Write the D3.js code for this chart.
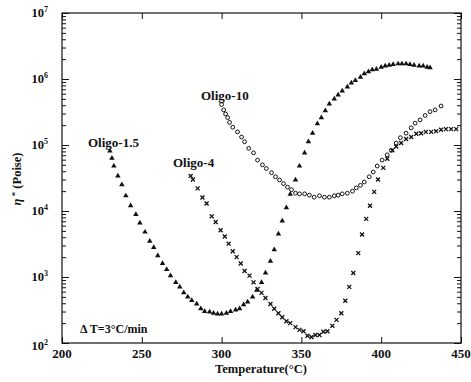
<!DOCTYPE html>
<html>
<head>
<meta charset="utf-8">
<script src="https://cdn.jsdelivr.net/npm/d3@7"></script>
<style>
  body { margin: 0; background: #fff; }
</style>
</head>
<body>
<div id="chart"></div>
<script>
// temperature (°C) and complex viscosity eta* (Poise)
const oligo15Temp = [230, 231.3, 232.5, 235, 237.5, 240, 243, 246.3, 248.8, 252, 255, 257.5, 260, 263, 265.6, 268, 271.3, 273.8, 276.3, 278.8,
  281.3, 284.4, 287, 289.4, 292.5, 295, 297.5, 300, 303, 305.6, 308.8, 311.3, 313.8, 316.3, 319.4, 322, 325, 327.5, 330.6, 333,
  335.6, 338, 340.6, 343, 346.3, 348.8, 352, 354.4, 357, 360, 362.5, 365, 367.5, 370.6, 373, 375.6, 378.8, 381.3, 383.8, 387,
  389.4, 392, 394.4, 397, 400, 402.5, 405, 407.5, 410.6, 413, 415.6, 418, 420.6, 423.8, 426.3, 428.8, 430.6];
const oligo15Eta = [8.1e4, 6.3e4, 4.8e4, 3.4e4, 2.5e4, 1.7e4, 1.2e4, 8.9e3, 6.6e3, 4.8e3, 3.5e3, 2.8e3, 2.1e3, 1.6e3, 1.3e3, 1.05e3, 830, 710, 580, 500,
  440, 390, 330, 300, 295, 282, 275, 275, 282, 300, 316, 330, 380, 420, 500, 630, 830, 1.15e3, 1.74e3, 2.6e3,
  4.5e3, 7.1e3, 1.12e4, 1.8e4, 2.95e4, 4.8e4, 7.6e4, 1.12e5, 1.51e5, 2.1e5, 2.6e5, 3.3e5, 4.2e5, 5.0e5, 5.75e5, 6.6e5, 7.6e5, 8.7e5, 9.5e5, 1.07e6,
  1.2e6, 1.29e6, 1.38e6, 1.41e6, 1.51e6, 1.58e6, 1.62e6, 1.66e6, 1.7e6, 1.7e6, 1.7e6, 1.66e6, 1.62e6, 1.58e6, 1.58e6, 1.51e6, 1.48e6];

const oligo4Temp = [280.6, 282, 285, 288, 290.6, 293.8, 296.3, 299.4, 302, 304.4, 307, 309.4, 312, 314.4, 317.5, 320, 322.5, 325, 327.5, 330.6,
  333, 335.6, 338, 340.6, 343, 346.3, 348.8, 351.3, 353.8, 356.3, 358.8, 361.3, 363.8, 366.3, 369.4, 372, 375, 377.5, 380, 382.5,
  385.6, 388, 390.6, 393, 395.6, 398, 401.3, 403.8, 407, 409.4, 412.5, 415.6, 418.8, 422, 425, 428, 431.3, 434.4, 437.5, 440.6,
  443.8, 447];
const oligo4Eta = [3.4e4, 3.0e4, 2.2e4, 1.6e4, 1.3e4, 8.3e3, 6.8e3, 5.1e3, 4.1e3, 3.2e3, 2.45e3, 2.0e3, 1.6e3, 1.23e3, 1.05e3, 830, 660, 575, 480, 390,
  330, 282, 245, 214, 200, 174, 158, 151, 129, 123, 132, 132, 148, 151, 182, 224, 282, 437, 708, 1.15e3,
  2.3e3, 4.4e3, 7.6e3, 1.2e4, 1.95e4, 3.0e4, 4.5e4, 6.2e4, 8.3e4, 9.5e4, 1.07e5, 1.23e5, 1.32e5, 1.48e5, 1.51e5, 1.58e5, 1.58e5, 1.62e5, 1.7e5, 1.74e5,
  1.74e5, 1.74e5];

const oligo10Temp = [300, 301.3, 302.5, 303.8, 305, 307, 310, 312.5, 314.4, 317, 320, 322.5, 325.6, 328, 331.3, 333.8, 336.3, 338.8, 341.3, 343.8,
  346.3, 348.8, 352, 355, 358, 361.3, 364.4, 367.5, 370.6, 373, 375.6, 378.8, 382, 384.4, 387, 389.4, 392.5, 395, 397.5, 400.6,
  403.8, 406.3, 409.4, 412, 415.6, 418.8, 421.3, 424.4, 427.5, 430.6, 433.8, 437.5];
const oligo10Eta = [4.1e5, 3.4e5, 2.95e5, 2.6e5, 2.2e5, 1.86e5, 1.58e5, 1.32e5, 1.12e5, 8.9e4, 7.6e4, 5.9e4, 5.0e4, 4.4e4, 3.8e4, 3.3e4, 2.95e4, 2.6e4, 2.3e4, 2.1e4,
  1.86e4, 1.82e4, 1.82e4, 1.74e4, 1.62e4, 1.7e4, 1.62e4, 1.62e4, 1.7e4, 1.74e4, 1.82e4, 1.86e4, 2.0e4, 2.24e4, 2.45e4, 2.75e4, 3.3e4, 3.9e4, 4.8e4, 5.9e4,
  7.1e4, 8.3e4, 1.07e5, 1.29e5, 1.51e5, 1.82e5, 2.14e5, 2.4e5, 2.8e5, 3.2e5, 3.4e5, 3.9e5];

const xTicks = [200, 250, 300, 350, 400, 450];
const yDecades = [2, 3, 4, 5, 6, 7];

const width = 471, height = 382;
const plotLeft = 62, plotRight = 461, plotTop = 13, plotBottom = 343;

const svg = d3.select("#chart").append("svg")
  .attr("width", width)
  .attr("height", height)
  .attr("font-family", "'Liberation Serif', 'DejaVu Serif', 'Times New Roman', serif")
  .attr("font-weight", "bold")
  .attr("fill", "#111");

const x = d3.scaleLinear().domain([200, 450]).range([plotLeft, plotRight]);
const y = d3.scaleLog().domain([1e2, 1e7]).range([plotBottom, plotTop]);

const majorY = yDecades.map(e => Math.pow(10, e));
const minorY = y.ticks().filter(v => !majorY.includes(v));

function styleAxis(g) {
  g.select(".domain").remove();
  g.selectAll("line").attr("stroke", "#111").attr("stroke-width", 1);
  g.selectAll("text").remove();
}

// minor + major ticks on the log axes, all pointing inward
svg.append("g").attr("transform", `translate(${plotLeft},0)`)
  .call(d3.axisLeft(y).tickValues(minorY).tickSize(-4)).call(styleAxis);
svg.append("g").attr("transform", `translate(${plotLeft},0)`)
  .call(d3.axisLeft(y).tickValues(majorY).tickSize(-7)).call(styleAxis);
svg.append("g").attr("transform", `translate(${plotRight},0)`)
  .call(d3.axisRight(y).tickValues(minorY).tickSize(-4)).call(styleAxis);
svg.append("g").attr("transform", `translate(${plotRight},0)`)
  .call(d3.axisRight(y).tickValues(majorY).tickSize(-7)).call(styleAxis);

svg.append("g").attr("transform", `translate(0,${plotBottom})`)
  .call(d3.axisBottom(x).tickValues(xTicks).tickSize(-6)).call(styleAxis);
svg.append("g").attr("transform", `translate(0,${plotTop})`)
  .call(d3.axisTop(x).tickValues(xTicks).tickSize(-6)).call(styleAxis);

// frame
svg.append("rect")
  .attr("x", plotLeft).attr("y", plotTop)
  .attr("width", plotRight - plotLeft).attr("height", plotBottom - plotTop)
  .attr("fill", "none").attr("stroke", "#111").attr("stroke-width", 1.2);

// x tick labels
svg.append("g").selectAll("text")
  .data(xTicks).enter().append("text")
  .attr("x", d => x(d))
  .attr("y", 358)
  .attr("text-anchor", "middle")
  .attr("font-size", 13)
  .text(d => d);

// y tick labels 10^n
const yl = svg.append("g").selectAll("text")
  .data(yDecades).enter().append("text")
  .attr("x", 48)
  .attr("y", d => y(Math.pow(10, d)) + (d === 2 ? 7 : 4))
  .attr("text-anchor", "end")
  .attr("font-size", 12.5);
yl.append("tspan").text("10");
yl.append("tspan").attr("dy", -5).attr("font-size", 8).text(d => d);

// axis titles
svg.append("text")
  .attr("x", 261).attr("y", 373)
  .attr("text-anchor", "middle")
  .attr("font-size", 12.5)
  .text("Temperature(°C)");

const yt = svg.append("text")
  .attr("transform", "translate(21,179) rotate(-90)")
  .attr("text-anchor", "middle")
  .attr("font-size", 12.5);
yt.append("tspan").attr("font-style", "italic").text("η");
yt.append("tspan").attr("dy", -3).attr("font-size", 9).text(" *");
yt.append("tspan").attr("dy", 3).text(" (Poise)");

// series
const s15 = oligo15Temp.map((t, i) => [t, oligo15Eta[i]]);
const s4 = oligo4Temp.map((t, i) => [t, oligo4Eta[i]]);
const s10 = oligo10Temp.map((t, i) => [t, oligo10Eta[i]]);

const tri = d3.symbol().type(d3.symbolTriangle).size(13);
svg.append("g").selectAll("path")
  .data(s15).enter().append("path")
  .attr("d", tri)
  .attr("transform", d => `translate(${x(d[0])},${y(d[1])})`)
  .attr("fill", "#111");

const cross = d3.symbol().type(d3.symbolX).size(12);
svg.append("g").selectAll("path")
  .data(s4).enter().append("path")
  .attr("d", cross)
  .attr("transform", d => `translate(${x(d[0])},${y(d[1])})`)
  .attr("fill", "none")
  .attr("stroke", "#111")
  .attr("stroke-width", 1.3);

svg.append("g").selectAll("circle")
  .data(s10).enter().append("circle")
  .attr("cx", d => x(d[0]))
  .attr("cy", d => y(d[1]))
  .attr("r", 1.9)
  .attr("fill", "none")
  .attr("stroke", "#111")
  .attr("stroke-width", 1);

// curve labels
svg.append("text").attr("x", 88).attr("y", 147).attr("font-size", 13).text("Oligo-1.5");
svg.append("text").attr("x", 173).attr("y", 167).attr("font-size", 13).text("Oligo-4");
svg.append("text").attr("x", 201).attr("y", 100).attr("font-size", 13).text("Oligo-10");

svg.append("text").attr("x", 80).attr("y", 333).attr("font-size", 12).text("Δ T=3°C/min");
</script>
</body>
</html>
